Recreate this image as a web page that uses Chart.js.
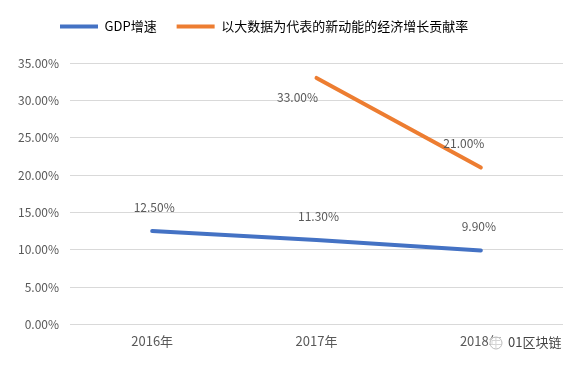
<!DOCTYPE html>
<html>
<head>
<meta charset="utf-8">
<script src="https://cdn.jsdelivr.net/npm/chart.js@4"></script>
<style>
  html, body { margin: 0; padding: 0; background: #fff; }
  #wrap { width: 586px; height: 367px; position: relative; }
</style>
</head>
<body>
<div id="wrap"><canvas id="myChart"></canvas></div>
<script>
const years = ["2016年", "2017年", "2018年"]
const gdpGrowth = [12.5, 11.3, 9.9]
const newEconomyShare = [null, 33.0, 21.0]
const seriesNames = ["GDP增速", "以大数据为代表的新动能的经济增长贡献率"]

const font = "'Noto Sans CJK SC', 'Liberation Sans', sans-serif"
const grey = "#595959"

// value labels next to the points, each series gets its own offset
const valueLabels = {
  id: "valueLabels",
  afterDatasetsDraw(chart) {
    const c = chart.ctx
    const offsets = [[2, -24], [-19, 20]]
    c.save()
    c.font = "12px " + font
    c.fillStyle = grey
    c.textAlign = "center"
    c.textBaseline = "middle"
    chart.data.datasets.forEach((ds, i) => {
      chart.getDatasetMeta(i).data.forEach((pt, j) => {
        const v = ds.data[j]
        if (v == null) return
        let [dx, dy] = offsets[i]
        if (i === 1 && j === 2) { dx = -17; dy = -24 }
        if (i === 0 && j === 2) { dx = -2 }
        c.fillText(v.toFixed(2) + "%", pt.x + dx, pt.y + dy)
      })
    })
    c.restore()
  }
}

// more room under the legend, and nudge the legend to the right
const legendGap = {
  id: "legendGap",
  beforeInit(chart) {
    const fit = chart.legend.fit
    chart.legend.fit = function () {
      fit.bind(chart.legend)()
      this.height += 20
    }
  },
  afterLayout(chart) {
    chart.legend.left += 33
    chart.legend.right += 33
  }
}

const watermark = {
  id: "watermark",
  afterDraw(chart) {
    const c = chart.ctx
    c.save()
    c.fillStyle = "rgba(255,255,255,0.75)"
    c.beginPath()
    c.arc(496, 343, 7, 0, Math.PI * 2)
    c.fill()
    c.strokeStyle = "#bbb"
    c.lineWidth = 1
    c.beginPath()
    c.arc(496, 343, 6, 0, Math.PI * 2)
    c.stroke()
    c.font = "13px " + font
    c.fillStyle = "#444"
    c.textBaseline = "middle"
    c.fillText("01区块链", 508, 342)
    c.restore()
  }
}

new Chart(document.querySelector("#myChart"), {
  type: "line",
  data: {
    labels: years,
    datasets: [{
      label: seriesNames[0],
      data: gdpGrowth,
      borderColor: "#4472C4",
      backgroundColor: "#4472C4",
      borderWidth: 4,
      borderCapStyle: "round",
      pointRadius: 0,
      tension: 0
    }, {
      label: seriesNames[1],
      data: newEconomyShare,
      borderColor: "#ED7D31",
      backgroundColor: "#ED7D31",
      borderWidth: 4,
      borderCapStyle: "round",
      pointRadius: 0,
      tension: 0
    }]
  },
  options: {
    responsive: true,
    maintainAspectRatio: false,
    animation: false,
    layout: { padding: { left: 7, right: 23, top: 0, bottom: 17 } },
    plugins: {
      legend: {
        align: "start",
        labels: {
          boxWidth: 38,
          boxHeight: 4,
          padding: 20,
          color: grey,
          font: { family: font, size: 13 },
          generateLabels(chart) {
            return chart.data.datasets.map((ds, i) => ({
              text: ds.label,
              fillStyle: ds.borderColor,
              strokeStyle: ds.borderColor,
              lineWidth: 0,
              datasetIndex: i
            }))
          }
        }
      },
      tooltip: { enabled: false }
    },
    scales: {
      x: {
        offset: true,
        grid: { display: false },
        border: { display: false },
        ticks: { color: grey, font: { family: font, size: 13 }, padding: 1 }
      },
      y: {
        min: 0,
        max: 35,
        grid: { color: "#d9d9d9", lineWidth: 1, drawTicks: false },
        border: { display: false },
        ticks: {
          stepSize: 5,
          color: grey,
          padding: 11,
          font: { family: font, size: 12 },
          callback: v => v.toFixed(2) + "%"
        }
      }
    }
  },
  plugins: [valueLabels, legendGap, watermark]
})
</script>
</body>
</html>
